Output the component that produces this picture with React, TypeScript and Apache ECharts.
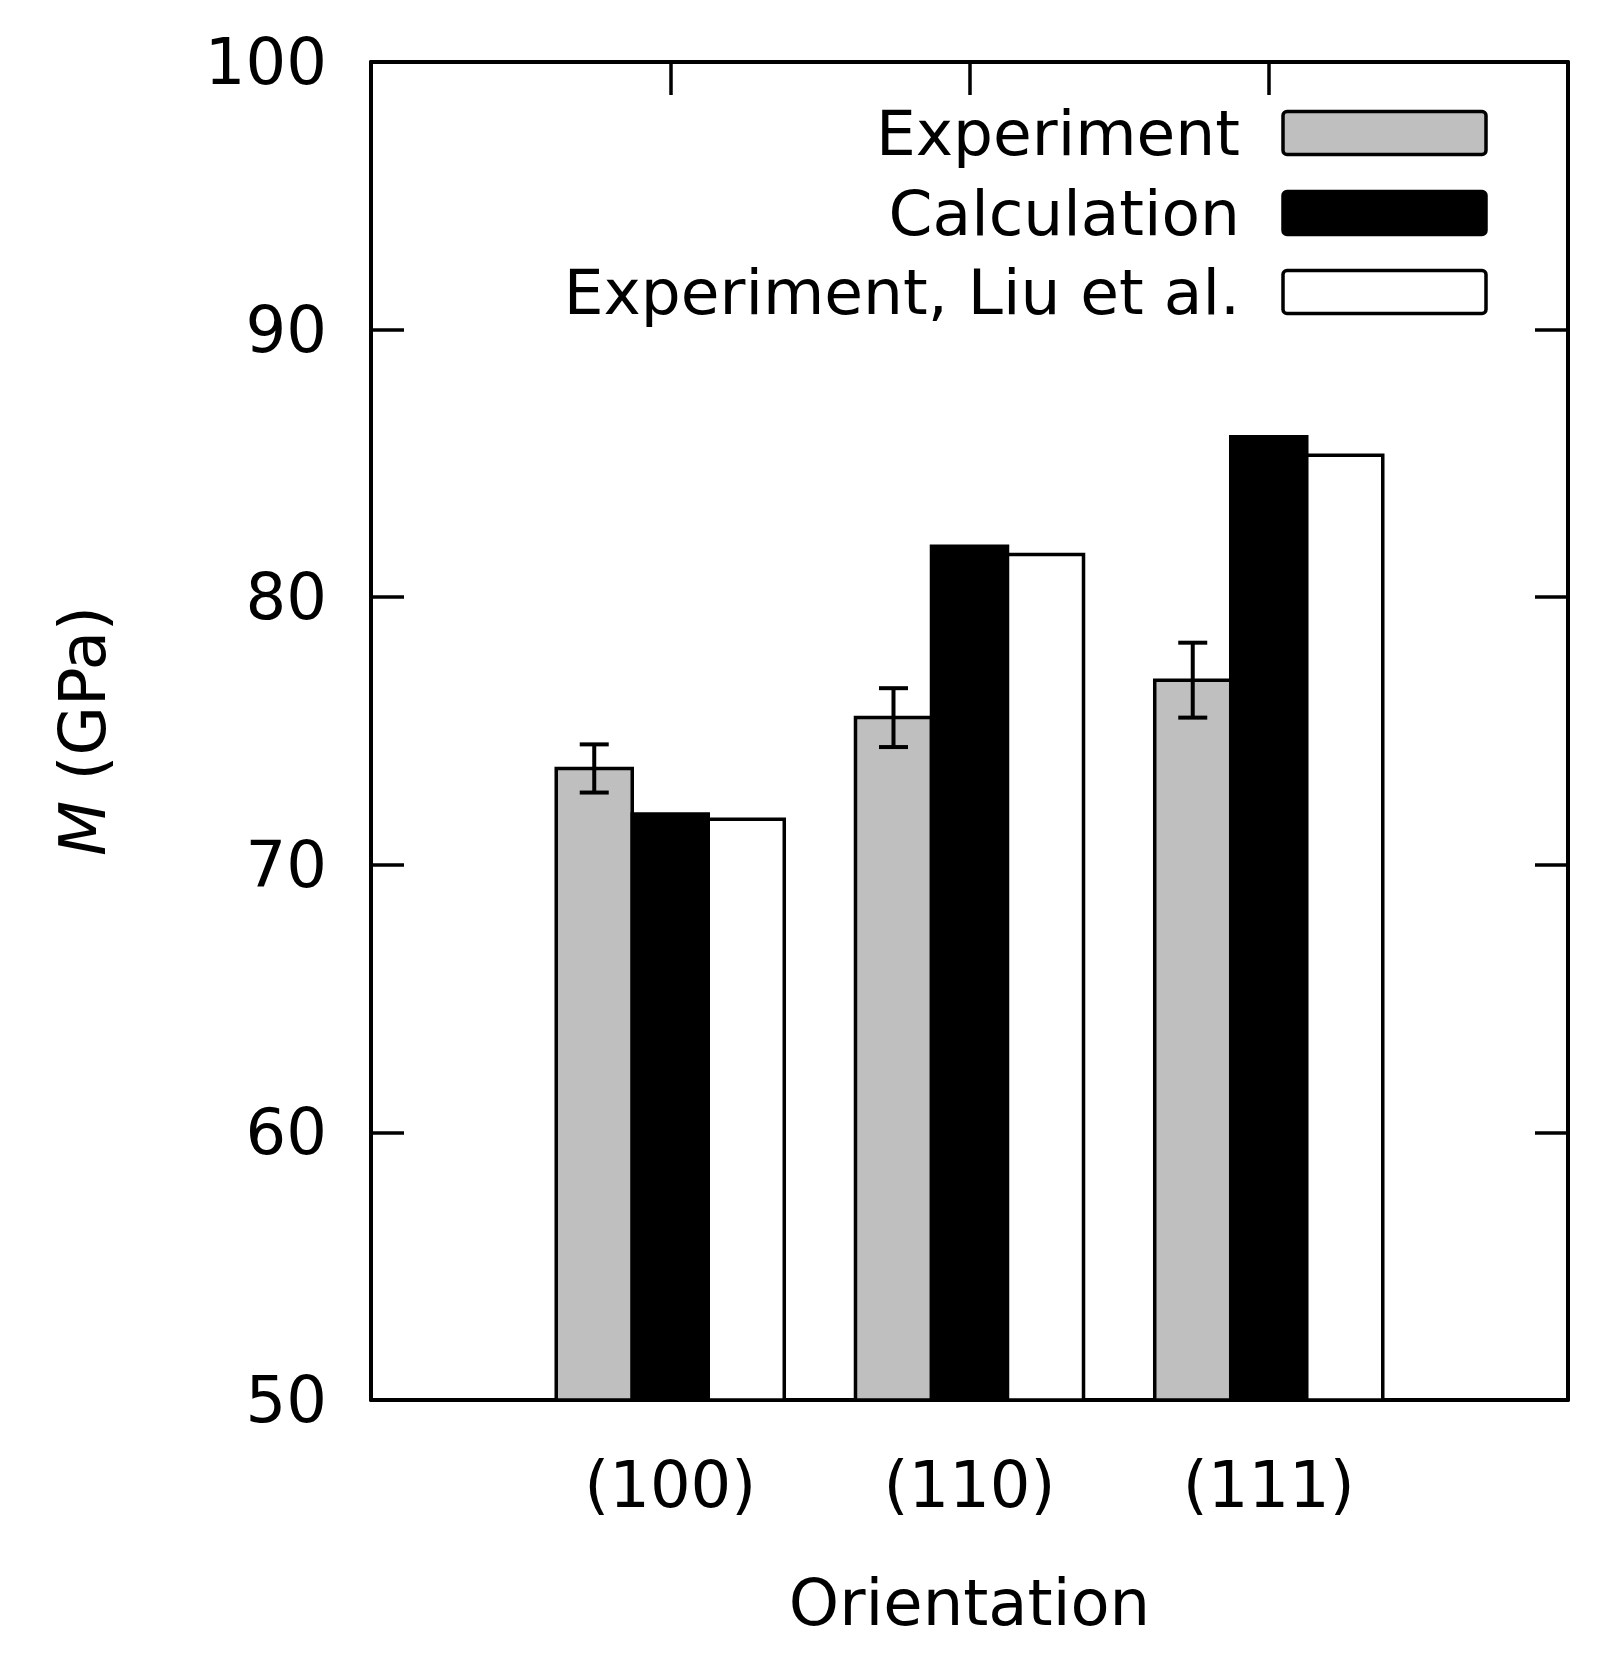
import React, { useEffect, useRef } from "react";
import * as echarts from "echarts";

const categories = ["(100)", "(110)", "(111)"];
const experiment = [73.6, 75.5, 76.9];
const experimentErr = [0.9, 1.1, 1.4];
const calculation = [71.9, 81.9, 86.0];
const liu = [71.7, 81.6, 85.3];
const seriesNames = ["Experiment", "Calculation", "Experiment, Liu et al."];
const yTicks = [50, 60, 70, 80, 90, 100];

const FONT = "DejaVu Sans";
const FS = 64;
const LEGEND_FS = 63;
const BAR_W = 0.254;
const Y_MIN = 50;
const Y_MAX = 100;
const GRAY = "#bfbfbf";

function barSeries(name: string, values: number[], offset: number, fill: string) {
  return {
    name,
    type: "custom",
    z: 2,
    data: values.map((v, i) => [i, v]),
    encode: { x: 0, y: 1 },
    renderItem: (_params: any, api: any) => {
      const c = api.value(0);
      const v = api.value(1);
      const p0 = api.coord([c + offset - BAR_W / 2, v]);
      const p1 = api.coord([c + offset + BAR_W / 2, Y_MIN]);
      return {
        type: "rect",
        shape: { x: p0[0], y: p0[1], width: p1[0] - p0[0], height: p1[1] - p0[1] },
        style: { fill, stroke: "#000", lineWidth: 3.5 },
      };
    },
  };
}

export default function App() {
  const ref = useRef<HTMLDivElement>(null);
  useEffect(() => {
    document.body.style.margin = "0";
    const chart = echarts.init(ref.current!, null, { renderer: "svg" });
    const axisLine = { show: true, onZero: false, lineStyle: { color: "#000", width: 4 } };
    const axisTick = { show: true, inside: true, length: 33, lineStyle: { color: "#000", width: 3.5 } };
    const legendCenters = [133, 213, 292];
    const legendFills = [GRAY, "#000", "#fff"];
    const graphic: any[] = [];
    seriesNames.forEach((n, i) => {
      graphic.push({
        type: "text",
        x: 1240,
        y: legendCenters[i],
        style: {
          text: n,
          fontFamily: FONT,
          fontSize: LEGEND_FS,
          fill: "#000",
          textAlign: "right",
          textVerticalAlign: "middle",
        },
      });
      graphic.push({
        type: "rect",
        shape: { x: 1283, y: legendCenters[i] - 21.5, width: 203, height: 43, r: 4 },
        style: { fill: legendFills[i], stroke: "#000", lineWidth: 3.5 },
      });
    });
    chart.setOption({
      animation: false,
      backgroundColor: "#fff",
      grid: { left: 371, right: 44, top: 62, bottom: 265 },
      xAxis: [
        {
          type: "value",
          min: -1,
          max: 3,
          interval: 1,
          position: "bottom",
          name: "Orientation",
          nameLocation: "middle",
          nameGap: 171,
          nameTextStyle: { fontFamily: FONT, fontSize: FS, color: "#000" },
          axisLine,
          axisTick,
          splitLine: { show: false },
          axisLabel: {
            margin: 53,
            fontFamily: FONT,
            fontSize: FS,
            color: "#000",
            formatter: (v: number) => categories[v] ?? "",
          },
        },
        {
          type: "value",
          min: -1,
          max: 3,
          interval: 1,
          position: "top",
          axisLine,
          axisTick,
          splitLine: { show: false },
          axisLabel: { show: false },
        },
      ],
      yAxis: [
        {
          type: "value",
          min: Y_MIN,
          max: Y_MAX,
          interval: 10,
          position: "left",
          name: "{i|M} (GPa)",
          nameLocation: "middle",
          nameGap: 256,
          nameTextStyle: {
            fontFamily: FONT,
            fontSize: FS,
            color: "#000",
            rich: { i: { fontStyle: "italic", fontFamily: FONT, fontSize: FS, color: "#000" } },
          },
          axisLine,
          axisTick,
          splitLine: { show: false },
          axisLabel: {
            margin: 44,
            fontFamily: FONT,
            fontSize: FS,
            color: "#000",
            formatter: (v: number) => (yTicks.includes(v) ? String(v) : ""),
          },
        },
        {
          type: "value",
          min: Y_MIN,
          max: Y_MAX,
          interval: 10,
          position: "right",
          axisLine,
          axisTick,
          splitLine: { show: false },
          axisLabel: { show: false },
        },
      ],
      series: [
        barSeries(seriesNames[0], experiment, -BAR_W, GRAY),
        barSeries(seriesNames[1], calculation, 0, "#000"),
        barSeries(seriesNames[2], liu, BAR_W, "#fff"),
        {
          name: "Experiment error",
          type: "custom",
          z: 3,
          data: experiment.map((v, i) => [i, v - experimentErr[i], v + experimentErr[i]]),
          encode: { x: 0, y: [1, 2] },
          renderItem: (_params: any, api: any) => {
            const c = api.value(0) - BAR_W;
            const lo = api.coord([c, api.value(1)]);
            const hi = api.coord([c, api.value(2)]);
            const hw = 14.5;
            const st = { stroke: "#000", lineWidth: 4 };
            return {
              type: "group",
              children: [
                { type: "line", shape: { x1: lo[0], y1: lo[1], x2: hi[0], y2: hi[1] }, style: st },
                { type: "line", shape: { x1: lo[0] - hw, y1: lo[1], x2: lo[0] + hw, y2: lo[1] }, style: st },
                { type: "line", shape: { x1: hi[0] - hw, y1: hi[1], x2: hi[0] + hw, y2: hi[1] }, style: st },
              ],
            };
          },
        },
      ],
      graphic,
    });
    return () => chart.dispose();
  }, []);
  return <div ref={ref} style={{ width: 1612, height: 1665 }} />;
}
